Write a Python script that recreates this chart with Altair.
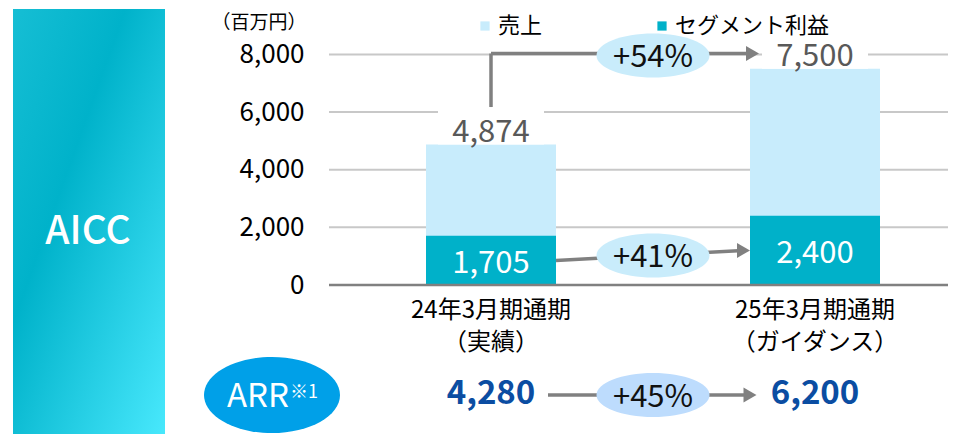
import altair as alt
import pandas as pd

# ---------------- data ----------------
periods_line1 = ["24年3月期通期", "25年3月期通期"]
periods_line2 = ["（実績）", "（ガイダンス）"]
series_names = ["売上", "セグメント利益"]
sales = [4874, 7500]
segment_profit = [1705, 2400]
arr_values = [4280, 6200]
growth_sales = "+54%"
growth_profit = "+41%"
growth_arr = "+45%"
y_ticks = [0, 2000, 4000, 6000, 8000]
unit_label = "（百万円）"
panel_label = "AICC"
arr_label = "ARR"
arr_note = "※1"

# ---------------- style ----------------
W, H = 940, 426
JP = "Noto Sans CJK JP"
LIGHT = "#C8ECFC"
TEAL = "#00B1C9"
GRAY = "#808080"
GRID = "#C8C8C8"
ELL = "#C9ECFB"
ELL2 = "#BDDCFD"
ARRBLUE = "#00A0E8"
NAVY = "#0B4DA2"
LABEL_BOX = 1300      # white box above the sales bar (data units)
ARROW_Y = 8030        # level of the sales growth arrow

ELLIPSE = "M-1,0 A1,0.39 0 1,1 1,0 A1,0.39 0 1,1 -1,0 Z"
ELLIPSE_ARR = "M-1,0 A1,0.56 0 1,1 1,0 A1,0.56 0 1,1 -1,0 Z"

xscale = alt.Scale(domain=[0, 1], range=[483, 807], padding=0)
yscale = alt.Scale(domain=[0, 8000], range=[277, 46.4])
yaxis = alt.Axis(
    values=y_ticks, labelExpr="format(datum.value, ',')", offset=-296,
    domain=False, ticks=False, tickSize=0, labelPadding=0, grid=False,
    labelFont=JP, labelFontSize=26, labelColor="#000000",
    titleAngle=0, titleAlign="right", titleBaseline="middle", titleLimit=400,
    titleX=2, titleY=14, titleFont=JP, titleFontSize=19, titleFontWeight="normal",
    titleColor="#000000",
)


def X(field):
    return alt.X(f"{field}:Q", scale=xscale, axis=None)


def X2(field):
    return alt.X2(f"{field}:Q")


def Y(field, **kw):
    return alt.Y(f"{field}:Q", scale=yscale, axis=yaxis, title=unit_label, **kw)


def Y2(field):
    return alt.Y2(f"{field}:Q")


df = pd.DataFrame({
    "idx": [0, 1],
    "line1": periods_line1,
    "line2": periods_line2,
    "sales": sales,
    "profit": segment_profit,
    "arr": arr_values,
})
df["box_top"] = df["sales"] + LABEL_BOX
df["profit_mid"] = df["profit"] / 2

bars_rows = []
for i in range(2):
    bars_rows.append({"idx": i, "series": series_names[0], "value": sales[i], "ord": 0})
for i in range(2):
    bars_rows.append({"idx": i, "series": series_names[1], "value": segment_profit[i], "ord": 1})
bars_df = pd.DataFrame(bars_rows)

ticks_df = pd.DataFrame({"tick": y_ticks})

sales_arrow = pd.DataFrame([{
    "x0": 0, "x1": 1, "xm": 0.5,
    "y0": sales[0] + LABEL_BOX, "ya": ARROW_Y, "label": growth_sales,
}])
profit_arrow = pd.DataFrame([{
    "x0": 0, "x1": 1, "xm": 0.5,
    "y0": segment_profit[0] / 2, "y1": segment_profit[1] / 2,
    "ym": (segment_profit[0] / 2 + segment_profit[1] / 2) / 2,
    "label": growth_profit,
}])
arr_arrow = pd.DataFrame([{"x0": 0, "x1": 1, "xm": 0.5, "label": growth_arr}])
panel_df = pd.DataFrame([{"label": panel_label}])
arr_badge = pd.DataFrame([{"label": arr_label, "note": arr_note}])

# ---------------- layers ----------------
gradient = alt.LinearGradient(
    gradient="linear",
    stops=[
        alt.GradientStop(color="#16BED4", offset=0),
        alt.GradientStop(color="#00B2CA", offset=0.37),
        alt.GradientStop(color="#48E8FC", offset=1),
    ],
    x1=0, y1=0, x2=1, y2=1,
)
panel = alt.Chart(panel_df).mark_rect(fill=gradient).encode(
    x=alt.value(5), x2=alt.value(157), y=alt.value(1), y2=alt.value(H)
)
panel_text = alt.Chart(panel_df).mark_text(
    font=JP, fontSize=39, fontWeight=500, color="white", align="center", baseline="middle"
).encode(x=alt.value(80), y=alt.value(224), text="label:N")

grid = alt.Chart(ticks_df).transform_filter("datum.tick > 0").mark_rule(
    color=GRID, strokeWidth=2
).encode(y=Y("tick"), x=alt.value(321), x2=alt.value(W))

baseline = alt.Chart(ticks_df).transform_filter("datum.tick == 0").mark_rule(
    color=GRAY, strokeWidth=2.5
).encode(y=Y("tick"), x=alt.value(321), x2=alt.value(W))

bars = alt.Chart(bars_df).mark_bar(size=130).encode(
    x=X("idx"),
    y=Y("value", stack=None),
    order=alt.Order("ord:Q"),
    color=alt.Color(
        "series:N",
        scale=alt.Scale(domain=series_names, range=[LIGHT, TEAL]),
        legend=alt.Legend(
            title=None, orient="none", legendX=466, legendY=7, direction="horizontal",
            symbolType="square", symbolSize=85, symbolStrokeWidth=0,
            labelFont=JP, labelFontSize=22, labelColor="#000000", labelLimit=0,
            labelOffset=2, columnPadding=108,
        ),
    ),
)

label_box = alt.Chart(df).mark_bar(size=106, color="white").encode(
    x=X("idx"), y=Y("sales"), y2=Y2("box_top")
)

sales_text = alt.Chart(df).mark_text(
    font=JP, fontSize=31, color="#595959", align="center", baseline="middle", dy=-12
).encode(x=X("idx"), y=Y("sales"), text=alt.Text("sales:Q", format=","))

profit_text = alt.Chart(df).mark_text(
    font=JP, fontSize=31, color="white", align="center", baseline="middle", dy=4
).encode(x=X("idx"), y=Y("profit_mid"), text=alt.Text("profit:Q", format=","))

# sales growth arrow
sa_v = alt.Chart(sales_arrow).mark_rule(color=GRAY, strokeWidth=3.5).encode(
    x=X("x0"), y=Y("y0"), y2=Y2("ya")
)
sa_h = alt.Chart(sales_arrow).mark_rule(color=GRAY, strokeWidth=3.5, x2Offset=-66).encode(
    x=X("x0"), x2=X2("x1"), y=Y("ya")
)
sa_head = alt.Chart(sales_arrow).mark_point(
    shape="triangle-right", size=225, filled=True, opacity=1, color=GRAY, strokeWidth=0, xOffset=-62.5
).encode(x=X("x1"), y=Y("ya"))
sa_ell = alt.Chart(sales_arrow).mark_point(
    shape=ELLIPSE, size=113 * 113, filled=True, opacity=1, color=ELL, strokeWidth=0, yOffset=2
).encode(x=X("xm"), y=Y("ya"))
sa_txt = alt.Chart(sales_arrow).mark_text(
    font=JP, fontSize=31, color="#111111", align="center", baseline="middle", dy=4
).encode(x=X("xm"), y=Y("ya"), text="label:N")

# profit growth arrow
pa_line = alt.Chart(profit_arrow).mark_rule(
    color=GRAY, strokeWidth=3.5, xOffset=65, x2Offset=-72
).encode(x=X("x0"), x2=X2("x1"), y=Y("y0"), y2=Y2("y1"))
pa_head = alt.Chart(profit_arrow).mark_point(
    shape="triangle-right", size=225, filled=True, opacity=1, color=GRAY, strokeWidth=0, xOffset=-71.5
).encode(x=X("x1"), y=Y("y1"))
pa_ell = alt.Chart(profit_arrow).mark_point(
    shape=ELLIPSE, size=113 * 113, filled=True, opacity=1, color=ELL, strokeWidth=0
).encode(x=X("xm"), y=Y("ym"))
pa_txt = alt.Chart(profit_arrow).mark_text(
    font=JP, fontSize=31, color="#111111", align="center", baseline="middle", dy=3
).encode(x=X("xm"), y=Y("ym"), text="label:N")

# category labels
cat1 = alt.Chart(df).mark_text(
    font=JP, fontSize=24, color="#000000", align="center", baseline="middle"
).encode(x=X("idx"), y=alt.value(303), text="line1:N")
cat2 = alt.Chart(df).mark_text(
    font=JP, fontSize=24, color="#000000", align="center", baseline="middle"
).encode(x=X("idx"), y=alt.value(335), text="line2:N")

# ARR row
ARR_Y = 387
arr_ell = alt.Chart(arr_badge).mark_point(
    shape=ELLIPSE_ARR, size=136 * 136, filled=True, opacity=1, color=ARRBLUE, strokeWidth=0
).encode(x=alt.value(264), y=alt.value(ARR_Y))
arr_t1 = alt.Chart(arr_badge).mark_text(
    font=JP, fontSize=33, color="white", align="right", baseline="middle"
).encode(x=alt.value(281), y=alt.value(ARR_Y + 2), text="label:N")
arr_t2 = alt.Chart(arr_badge).mark_text(
    font=JP, fontSize=18, color="white", align="left", baseline="middle"
).encode(x=alt.value(282), y=alt.value(ARR_Y - 2), text="note:N")
arr_vals = alt.Chart(df).mark_text(
    font=JP, fontSize=33, fontWeight="bold", color=NAVY, align="center", baseline="middle"
).encode(x=X("idx"), y=alt.value(ARR_Y - 1), text=alt.Text("arr:Q", format=","))
aa_line = alt.Chart(arr_arrow).mark_rule(
    color=GRAY, strokeWidth=3.5, xOffset=57, x2Offset=-70
).encode(x=X("x0"), x2=X2("x1"), y=alt.value(ARR_Y))
aa_head = alt.Chart(arr_arrow).mark_point(
    shape="triangle-right", size=225, filled=True, opacity=1, color=GRAY, strokeWidth=0, xOffset=-65
).encode(x=X("x1"), y=alt.value(ARR_Y))
aa_ell = alt.Chart(arr_arrow).mark_point(
    shape=ELLIPSE, size=113 * 113, filled=True, opacity=1, color=ELL2, strokeWidth=0
).encode(x=X("xm"), y=alt.value(ARR_Y))
aa_txt = alt.Chart(arr_arrow).mark_text(
    font=JP, fontSize=31, color="#111111", align="center", baseline="middle", dy=3
).encode(x=X("xm"), y=alt.value(ARR_Y), text="label:N")

chart = alt.layer(
    panel, panel_text,
    grid, bars, baseline,
    label_box, sales_text, profit_text,
    sa_v, sa_h, sa_head, sa_ell, sa_txt,
    pa_line, pa_head, pa_ell, pa_txt,
    cat1, cat2,
    arr_ell, arr_t1, arr_t2, arr_vals, aa_line, aa_head, aa_ell, aa_txt,
).properties(
    width=W, height=H, autosize=alt.AutoSizeParams(type="none"), padding=0,
    background="white",
).configure(font=JP).configure_view(strokeWidth=0)

chart.save("out.html", embed_options={"renderer": "svg", "actions": False})
